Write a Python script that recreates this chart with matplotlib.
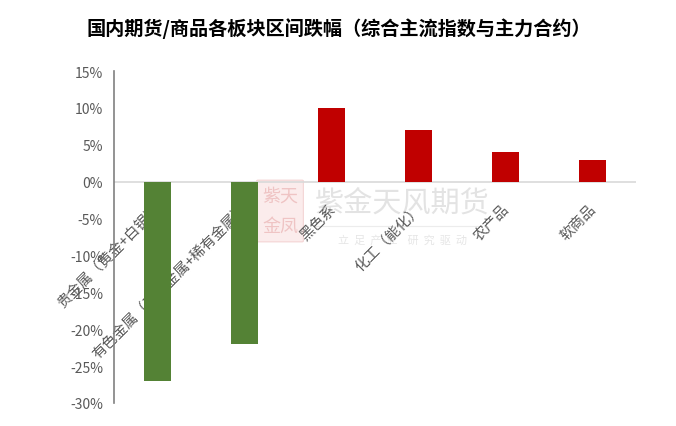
import matplotlib
matplotlib.use("Agg")
import matplotlib.pyplot as plt
from matplotlib.ticker import FuncFormatter, MultipleLocator
from matplotlib.patches import FancyBboxPatch

plt.rcParams['font.family'] = ['Noto Sans CJK SC', 'DejaVu Sans']

categories = ['贵金属（黄金+白银）', '有色金属（工业金属+稀有金属）', '黑色系', '化工（能化）', '农产品', '软商品']
values = [-27, -22, 10, 7, 4, 3]
title = '国内期货/商品各板块区间跌幅（综合主流指数与主力合约）'

W, H = 676, 427
fig = plt.figure(figsize=(W/100, H/100), dpi=100)

# watermark (behind everything)
fig.patches.append(FancyBboxPatch((258/W, 1 - 242/H), 44/W, 60/H,
                                  boxstyle='round,pad=0.002', transform=fig.transFigure,
                                  facecolor='#fbecec', edgecolor='#f4d4d4', lw=0.8, zorder=-2))
fig.text(280/W, 1 - 197/H, '紫天', fontsize=13, color='#efc4c4', ha='center', va='center', zorder=-1)
fig.text(280/W, 1 - 227/H, '金凤', fontsize=13, color='#efc4c4', ha='center', va='center', zorder=-1)
fig.text(402/W, 1 - 204/H, '紫金天风期货', fontsize=21, color='#e3e3e3',
         ha='center', va='center', zorder=-1)
fig.lines.append(plt.Line2D([315/W, 482/W], [1 - 227/H, 1 - 227/H], transform=fig.transFigure,
                            color='#ececec', lw=0.8, zorder=-1))
fig.text(402/W, 1 - 241/H, '立  足  产  业    研  究  驱  动', fontsize=8, color='#e6e6e6',
         ha='center', va='center', zorder=-1)

ax = fig.add_axes([114/W, 1 - 404/H, (636-114)/W, (404-72)/H])
ax.patch.set_alpha(0)

colors = ['#548235' if v < 0 else '#C00000' for v in values]
x = list(range(len(categories)))
ax.bar(x, values, width=0.3, color=colors, zorder=3)

ax.set_xlim(-0.5, len(categories) - 0.5)
ax.set_ylim(-30, 15)
ax.yaxis.set_major_locator(MultipleLocator(5))
ax.yaxis.set_major_formatter(FuncFormatter(lambda v, p: f'{int(round(v))}%'))
ax.tick_params(axis='y', length=0, labelsize=10, labelcolor='#595959', pad=8)
ax.set_xticks([])
for s in ['top', 'right', 'bottom']:
    ax.spines[s].set_visible(False)
ax.spines['left'].set_color('#808080')
ax.spines['left'].set_linewidth(1.2)
ax.axhline(0, color='#d9d9d9', lw=1.2, zorder=2)

for i, c in enumerate(categories):
    ax.annotate(c, xy=(i, 0), xytext=(-2.5, -14), textcoords='offset points',
                rotation=45, rotation_mode='anchor', ha='right', va='top',
                fontsize=10.5, color='#595959', zorder=2.5)

fig.text(339/W, 1 - 29/H, title, fontsize=13.8, fontweight='bold',
         ha='center', va='center', color='#000000')

fig.savefig('out.png', dpi=100)
